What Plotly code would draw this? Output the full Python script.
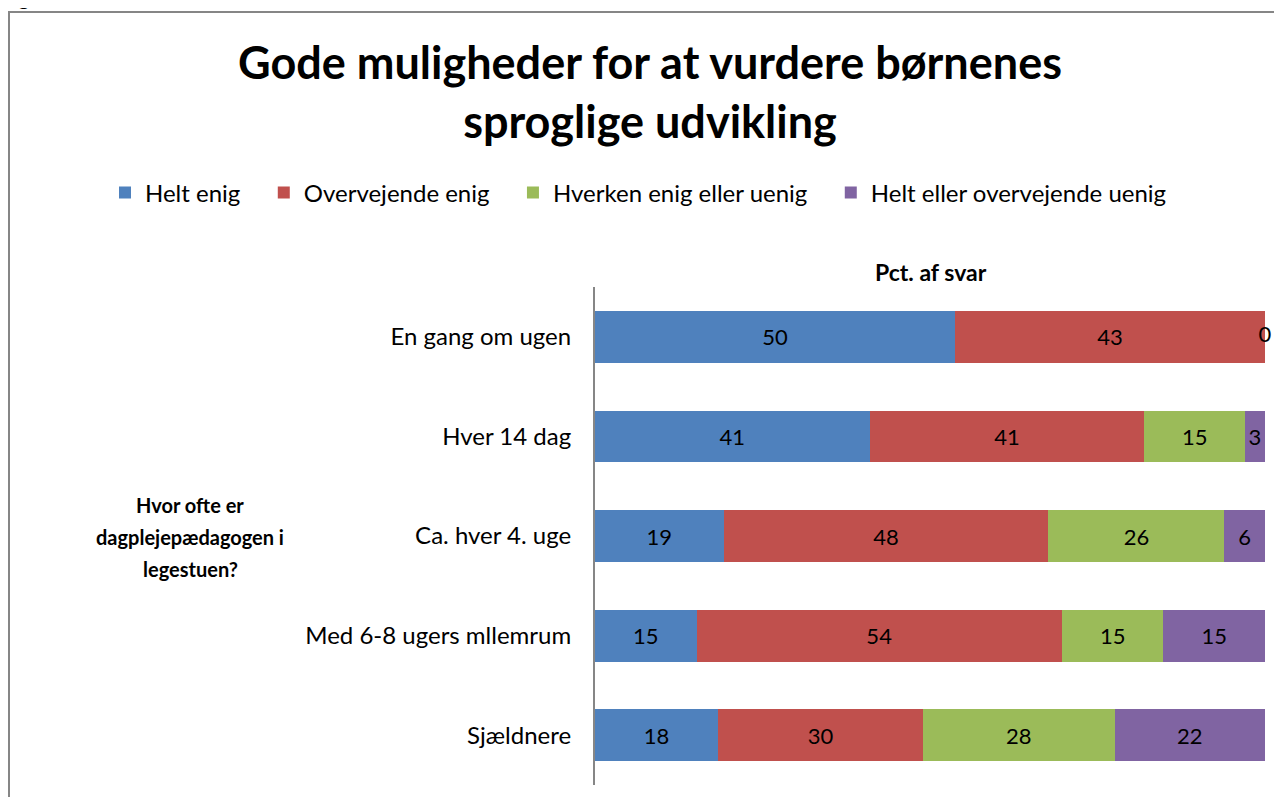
import plotly.graph_objects as go

# categories (top to bottom) and answer shares in percent
categories = ['En gang om ugen', 'Hver 14 dag', 'Ca. hver 4. uge', 'Med 6-8 ugers mllemrum', 'Sjældnere']
series_names = ['Helt enig', 'Overvejende enig', 'Hverken enig eller uenig', 'Helt eller overvejende uenig']
helt_enig = [50, 41, 19, 15, 18]
overvejende_enig = [43, 41, 48, 54, 30]
hverken = [None, 15, 26, 15, 28]
uenig = [0, 3, 6, 15, 22]
ytitle_lines = ['Hvor ofte er', 'dagplejepædagogen i', 'legestuen?']

colors = ['#4F81BD', '#C0504D', '#9BBB59', '#8064A2']
font_name = 'Lato'

# the page has an 8px body margin, so the figure is laid out in page coords - 8
W, H = 1266, 789
L, R, T, B = 587, 9, 279, 12
pw, ph = W - L - R, H - T - B


def px_x(x):
    return (x - L) / pw


def px_y(y):
    return (H - B - y) / ph


series = [helt_enig, overvejende_enig, hverken, uenig]
fig = go.Figure()
for i, (name, vals, col) in enumerate(zip(series_names, series, colors)):
    legend_name = name if i == len(series_names) - 1 else name + '\u00a0\u00a0\u00a0'
    fig.add_trace(go.Bar(
        y=categories, x=vals, name=legend_name, orientation='h',
        marker=dict(color=col, line=dict(width=0)),
        text=[('' if v is None else str(v)) for v in vals],
        textposition='inside', insidetextanchor='middle',
        textfont=dict(family=font_name, size=22, color='black'),
        cliponaxis=False, width=0.52, hoverinfo='x+y+name',
    ))

# labels for zero-size segments sit at the segment boundary
zx, zy, zt = [], [], []
for r, cat in enumerate(categories):
    row = [s[r] or 0 for s in series]
    total = sum(row)
    for j, v in enumerate(row):
        if series[j][r] == 0:
            zx.append(100 * sum(row[:j]) / total)
            zy.append(cat)
            zt.append(str(v))
fig.add_trace(go.Scatter(x=zx, y=zy, text=zt, mode='text', textposition='middle center',
                         textfont=dict(family=font_name, size=22, color='black'),
                         showlegend=False, cliponaxis=False, hoverinfo='skip'))

fig.update_layout(
    barmode='stack', barnorm='percent',
    width=W, height=H,
    margin=dict(l=L, r=R, t=T, b=B),
    paper_bgcolor='white', plot_bgcolor='white',
    font=dict(family=font_name, size=22, color='black'),
    uniformtext=dict(minsize=22, mode='show'),
    title=dict(text='<b>Gode muligheder for at vurdere børnenes<br>sproglige udvikling</b>',
               x=642 / W, xanchor='center', y=1 - 71 / H, yanchor='middle',
               font=dict(family=font_name, size=45, color='black')),
    legend=dict(orientation='h', x=px_x(97), xanchor='left', y=px_y(185), yanchor='middle',
                font=dict(family=font_name, size=24), traceorder='normal',
                itemwidth=30, bgcolor='rgba(0,0,0,0)'),
    showlegend=True,
)
fig.update_xaxes(range=[0, 100.0001], visible=False, showgrid=False, zeroline=False)
fig.update_yaxes(autorange='reversed', showgrid=False, zeroline=False,
                 showline=True, linecolor='#868686', linewidth=2,
                 ticks='', ticklabelstandoff=17,
                 tickfont=dict(family=font_name, size=24, color='black'))

# axis titles
fig.add_annotation(text='<b>Pct. af svar</b>', xref='paper', yref='paper',
                   x=px_x(923), y=px_y(264), xanchor='center', yanchor='middle', showarrow=False,
                   font=dict(family=font_name, size=23, color='black'))
for k, line in enumerate(ytitle_lines):
    fig.add_annotation(text='<b>' + line + '</b>', xref='paper', yref='paper',
                       x=px_x(182), y=px_y(497 + 32 * k),
                       xanchor='center', yanchor='middle', showarrow=False,
                       font=dict(family=font_name, size=20, color='black'))
# figure label, mostly cut off at the top edge
fig.add_annotation(text='<b>Figur 4.6:</b>', xref='paper', yref='paper',
                   x=px_x(-8), y=px_y(3), xanchor='left', yanchor='bottom', showarrow=False,
                   font=dict(family=font_name, size=20, color='black'))
# chart frame
fig.add_shape(type='rect', xref='paper', yref='paper',
              x0=px_x(1), x1=px_x(1300), y0=px_y(830), y1=px_y(4),
              line=dict(color='#868686', width=2), fillcolor='rgba(0,0,0,0)', layer='below')

fig.write_html('out.html')
